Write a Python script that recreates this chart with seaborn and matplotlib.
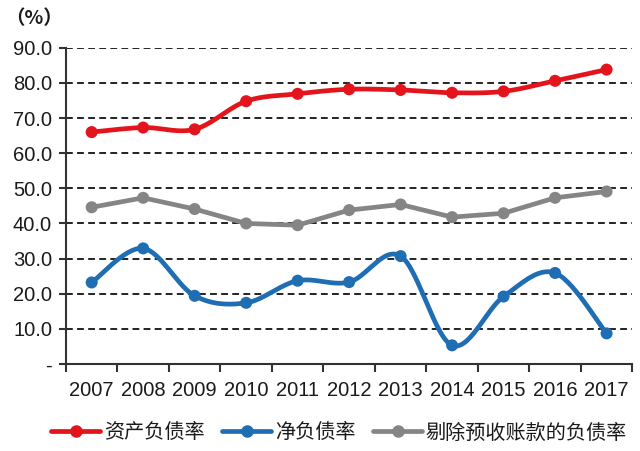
import numpy as np
import pandas as pd
import matplotlib
matplotlib.use('Agg')
import matplotlib.pyplot as plt
import seaborn as sns
from matplotlib.lines import Line2D

years = ['2007', '2008', '2009', '2010', '2011', '2012', '2013', '2014', '2015', '2016', '2017']
asset_ratio = [66.0, 67.3, 66.8, 74.8, 76.9, 78.2, 78.0, 77.2, 77.6, 80.6, 83.8]
net_ratio = [23.2, 32.9, 19.4, 17.4, 23.7, 23.3, 30.7, 5.3, 19.2, 25.9, 8.7]
adj_ratio = [44.6, 47.3, 44.1, 40.0, 39.5, 43.8, 45.4, 41.8, 42.9, 47.3, 49.1]
names = ['资产负债率', '净负债率', '剔除预收账款的负债率']
colors = ['#E3141B', '#1F6DB3', '#858585']

sns.set_theme(style='white')
plt.rcParams['font.family'] = ['Liberation Sans Narrow', 'Liberation Sans', 'Noto Sans CJK SC', 'DejaVu Sans']


def smooth(y, n=30):
    # Catmull-Rom like Excel's smoothed line
    y = np.asarray(y, dtype=float)
    x = np.arange(len(y), dtype=float)
    px = np.concatenate([[x[0]], x, [x[-1]]])
    py = np.concatenate([[y[0]], y, [y[-1]]])
    xs, ys = [], []
    for i in range(1, len(px) - 2):
        t = np.linspace(0, 1, n, endpoint=False)
        for arr, out in ((px, xs), (py, ys)):
            p0, p1, p2, p3 = arr[i - 1], arr[i], arr[i + 1], arr[i + 2]
            out.extend(0.5 * ((2 * p1) + (-p0 + p2) * t
                              + (2 * p0 - 5 * p1 + 4 * p2 - p3) * t ** 2
                              + (-p0 + 3 * p1 - 3 * p2 + p3) * t ** 3))
    xs.append(x[-1])
    ys.append(y[-1])
    return np.array(xs), np.array(ys)


df = pd.DataFrame({'idx': np.arange(len(years)), 'asset': asset_ratio,
                   'net': net_ratio, 'adj': adj_ratio})

fig = plt.figure(figsize=(6.4, 4.51), dpi=100)
ax = fig.add_axes([0.103, 0.193, 0.885, 0.701])

for i in range(10, 100, 10):
    ax.axhline(i, color='#222222', lw=1.4, ls=(0, (3.5, 2.2)), zorder=1)

# red and blue are smoothed, gray is straight
for col, c, sm in (('adj', colors[2], False), ('asset', colors[0], True), ('net', colors[1], True)):
    if sm:
        sx, sy = smooth(df[col])
        sns.lineplot(x=sx, y=sy, ax=ax, color=c, lw=3.4, sort=False, zorder=3)
    else:
        sns.lineplot(data=df, x='idx', y=col, ax=ax, color=c, lw=3.4, zorder=3)
    sns.scatterplot(data=df, x='idx', y=col, ax=ax, color=c, s=75, edgecolor='none', zorder=4)

ax.set_xlim(-0.5, 10.5)
ax.set_ylim(0, 90)
ax.set_xticks(range(len(years)))
ax.set_xticklabels(years, fontsize=14.5, color='#1a1a1a')
ax.set_xticks(np.arange(-0.5, 11, 1), minor=True)
ax.tick_params(axis='x', which='major', length=0, pad=12)
ax.tick_params(axis='x', which='minor', length=6, width=1.5, color='#333333', direction='out', bottom=True)
ax.set_yticks(range(0, 91, 10))
ax.set_yticklabels(['-'] + ['%.1f' % v for v in range(10, 91, 10)], fontsize=14.5, color='#1a1a1a')
ax.tick_params(axis='y', length=5, width=1.5, color='#333333', direction='out', left=True, pad=5)
ax.set_xlabel('')
ax.set_ylabel('')

for s in ('top', 'right'):
    ax.spines[s].set_visible(False)
for s in ('left', 'bottom'):
    ax.spines[s].set_color('#333333')
    ax.spines[s].set_linewidth(1.5)

fig.text(0.008, 0.958, '（%）', fontsize=14, fontweight='bold', color='#1a1a1a',
         family=['Noto Sans CJK SC', 'DejaVu Sans'], va='center')

handles = [Line2D([], [], color=c, lw=3.4, marker='o', markersize=8) for c in colors]
fig.legend(handles, names, loc='center', bbox_to_anchor=(0.53, 0.04), ncol=3, frameon=False,
           prop={'family': ['Noto Sans CJK SC'], 'size': 14.5}, handlelength=2.4,
           handletextpad=0.2, columnspacing=0.9, labelcolor='#1a1a1a')

fig.savefig('out.png', dpi=100)
